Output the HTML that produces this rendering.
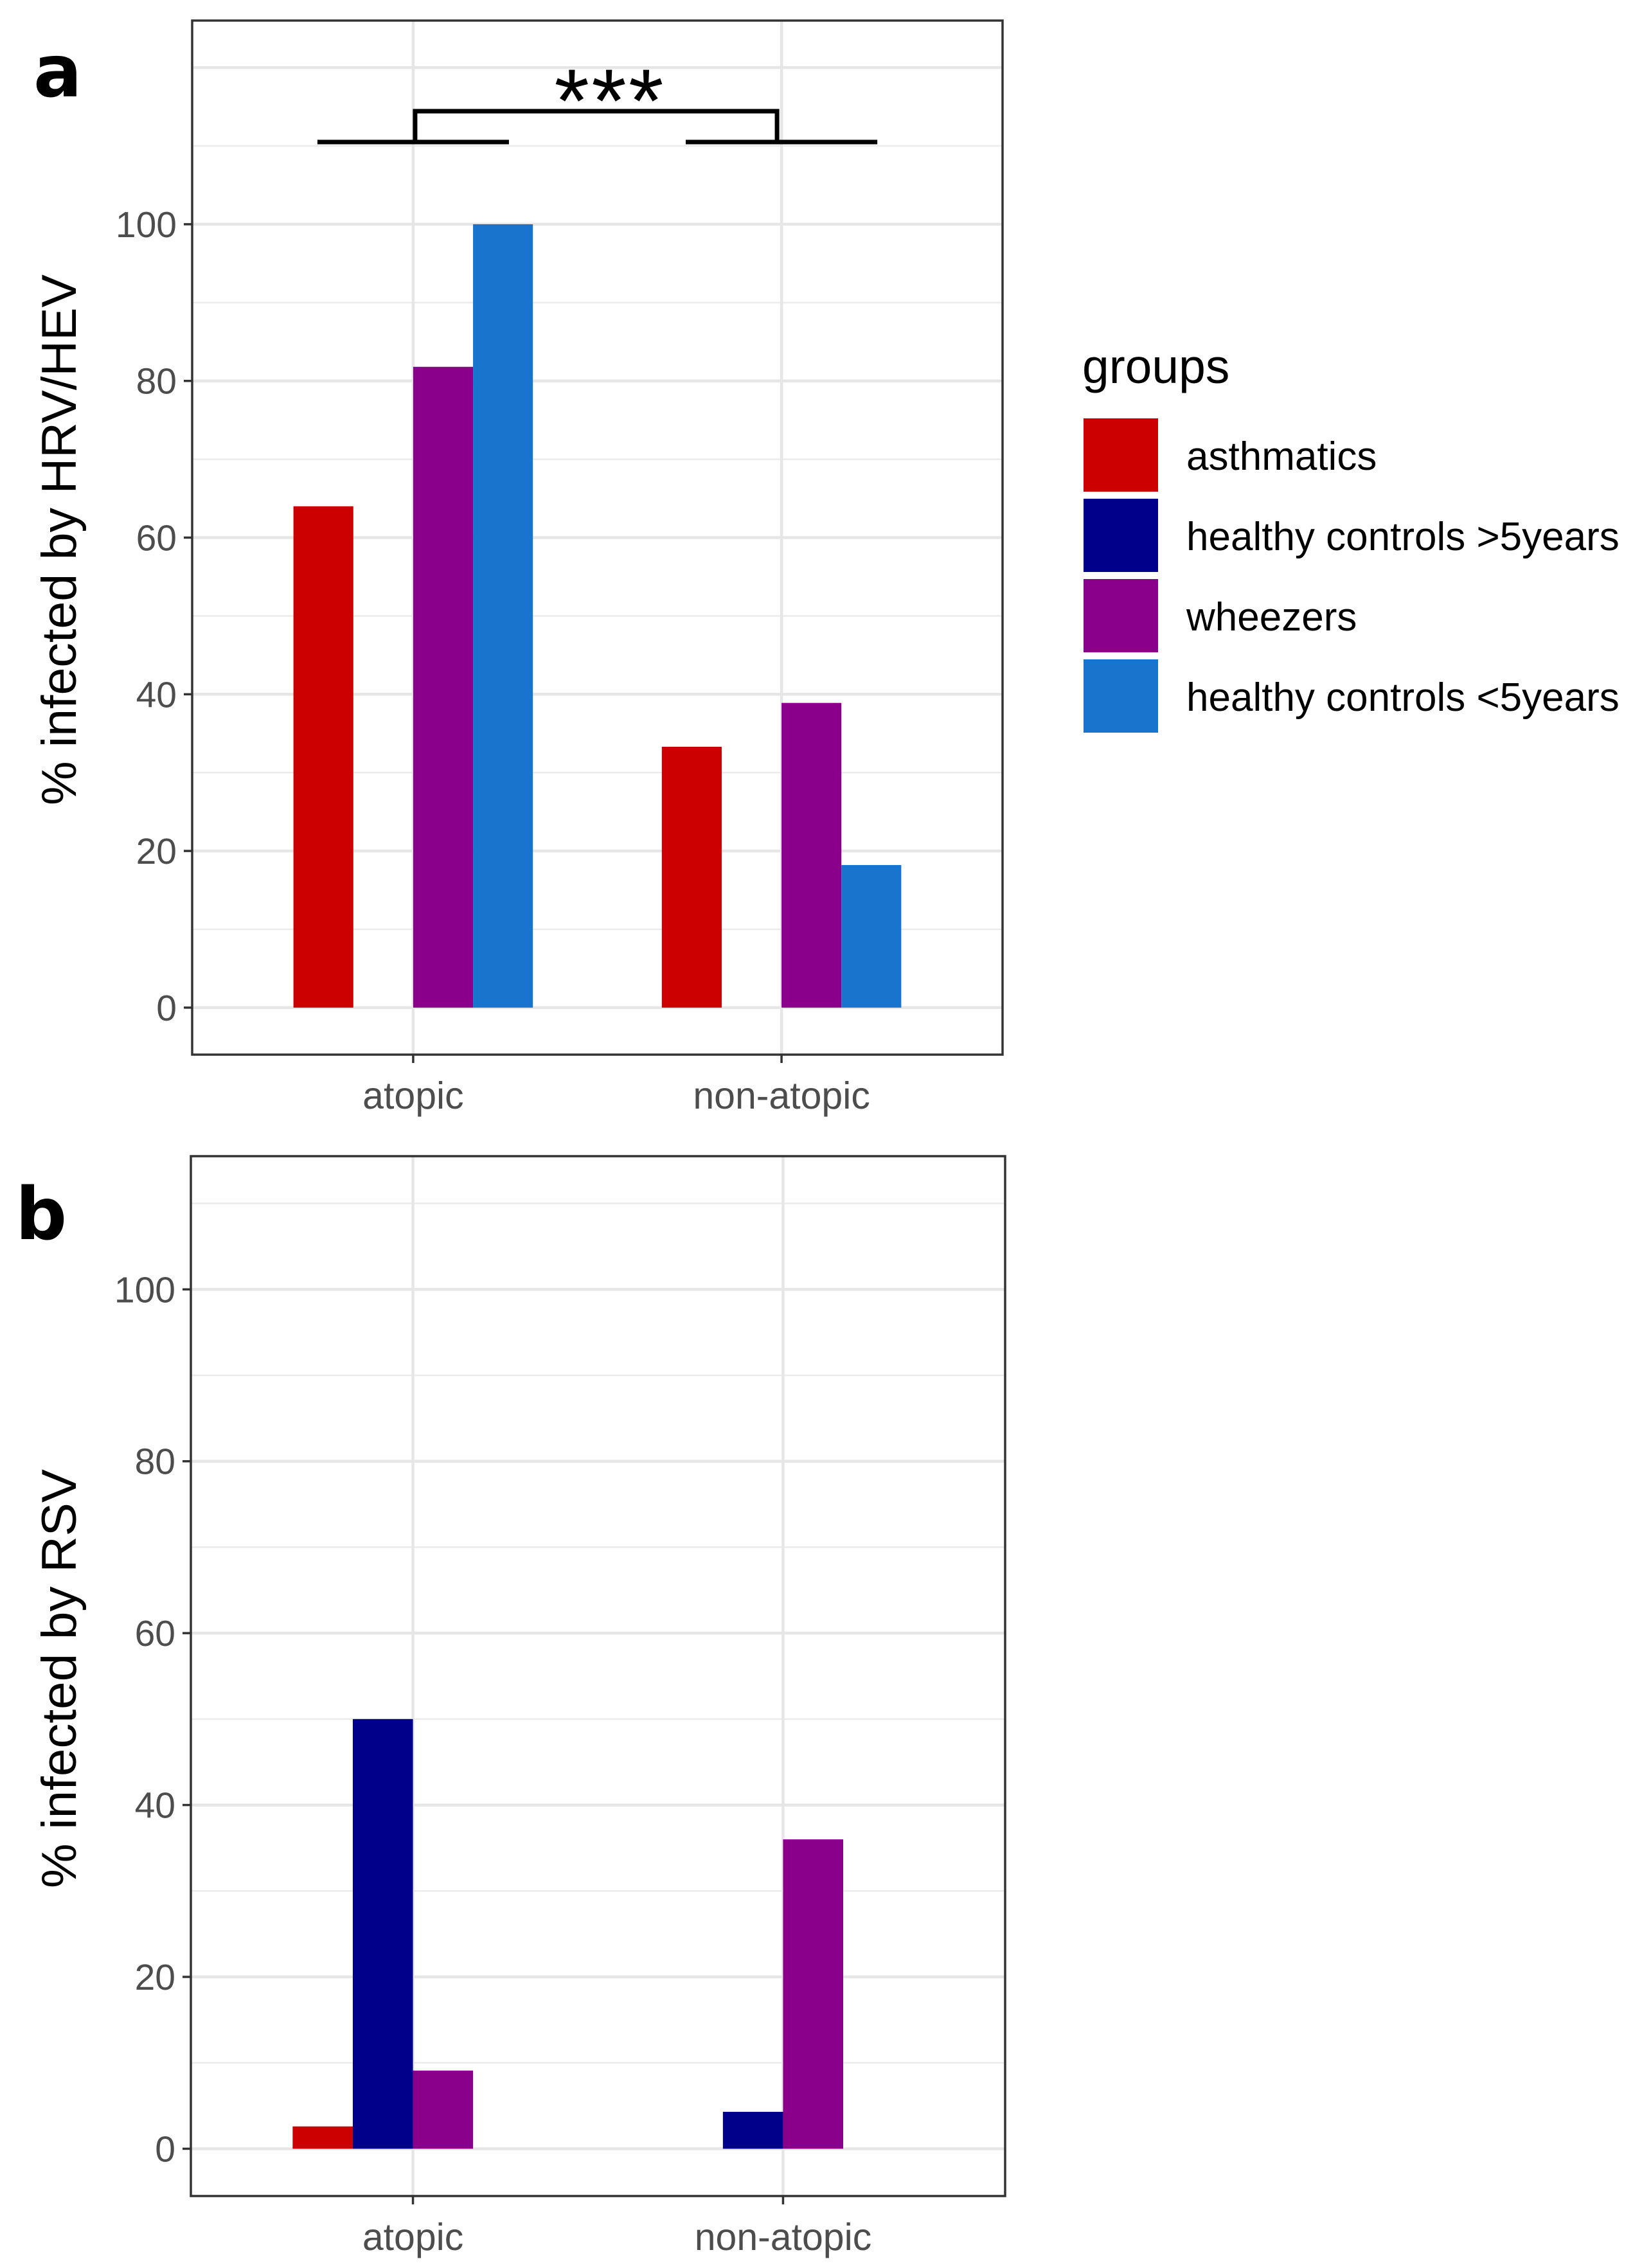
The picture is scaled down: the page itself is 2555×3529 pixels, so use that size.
<!DOCTYPE html>
<html><head><meta charset="utf-8"><style>
html,body{margin:0;padding:0;background:#fff;}
svg{display:block;font-family:"Liberation Sans",Arial,sans-serif;}
</style></head><body>
<svg id="chart" width="2555" height="3529" viewBox="0 0 2555 3529" xmlns="http://www.w3.org/2000/svg">
<rect width="2555" height="3529" fill="#fff"/>
<g id="pa"></g>
<g id="pb"></g>
<g id="legend"></g>
</svg>
<script>
const categories = ["atopic", "non-atopic"];
const groups = ["asthmatics", "healthy controls >5years", "wheezers", "healthy controls <5years"];
const groupColors = ["#cc0000", "#00008b", "#8b008b", "#1874cd"];
const hrvAsthmatics = [64, 33.3];
const hrvHealthyOver5 = [null, null];
const hrvWheezers = [81.8, 38.9];
const hrvHealthyUnder5 = [100, 18.2];
const rsvAsthmatics = [2.6, null];
const rsvHealthyOver5 = [50, 4.3];
const rsvWheezers = [9.1, 36];
const rsvHealthyUnder5 = [null, null];
const yTickLabels = ["0", "20", "40", "60", "80", "100"];

const NS = "http://www.w3.org/2000/svg";
function mk(parent, tag, attrs, text){
  const e = document.createElementNS(NS, tag);
  for (const k in attrs) e.setAttribute(k, attrs[k]);
  if (text !== undefined) e.textContent = text;
  parent.appendChild(e);
  return e;
}

function drawPanel(g, cfg){
  const {L,R,T,B,ymin,ymax,title,series,letter,lx,ly,prefix,gridMax,titleLen} = cfg;
  const yS = v => B - (v - ymin) / (ymax - ymin) * (B - T);
  const xS = i => L + (i + 0.6) / 2.2 * (R - L);
  const unit = (R - L) / 2.2;
  for (let v = 10; v <= gridMax; v += 20) {
    const l = mk(g, "line", {x1:L, x2:R, y1:yS(v), y2:yS(v), stroke:"#ebebeb", "stroke-width":2.5});
    
    
  }
  for (let v = 0; v <= gridMax; v += 20) {
    const l = mk(g, "line", {x1:L, x2:R, y1:yS(v), y2:yS(v), stroke:"#e6e6e6", "stroke-width":4.5});
    
    
  }
  categories.forEach((c, i) => {
    const l = mk(g, "line", {x1:xS(i), x2:xS(i), y1:T, y2:B, stroke:"#e6e6e6", "stroke-width":4.5});
    
    
  });
  const bw = unit * 0.65 / 4;
  series.forEach((vals, s) => {
    vals.forEach((v, i) => {
      if (v === null) return;
      const x = xS(i) - 2 * bw + s * bw;
      const r = mk(g, "rect", {x:x, y:yS(v), width:bw, height:yS(0) - yS(v), fill:groupColors[s]});
      
      
    });
  });
  const bd = mk(g, "rect", {x:L, y:T, width:R-L, height:B-T, fill:"none", stroke:"#333", "stroke-width":3.5});
  
  
  yTickLabels.forEach(t => {
    const v = +t;
    mk(g, "line", {x1:L-13, x2:L, y1:yS(v), y2:yS(v), stroke:"#333", "stroke-width":3.5});
    const tx = mk(g, "text", {x:L-24, y:yS(v)+20, "text-anchor":"end", "font-size":57, fill:"#4d4d4d"}, t);
    
    
  });
  categories.forEach((c, i) => {
    mk(g, "line", {x1:xS(i), x2:xS(i), y1:B, y2:B+13, stroke:"#333", "stroke-width":3.5});
    const tx = mk(g, "text", {x:xS(i), y:B+84, "text-anchor":"middle", "font-size":59, fill:"#4d4d4d"}, c);
    
    
  });
  const yt = mk(g, "text", {x:0, y:0, transform:`translate(118,${cfg.titleY}) rotate(-90)`, "text-anchor":"middle", "font-size":76, fill:"#000", textLength:titleLen, lengthAdjust:"spacingAndGlyphs"}, title);
  
  
  const lt = mk(g, "text", {x:lx, y:ly, "font-size":112, "font-weight":"bold", fill:"#000", "font-family":"DejaVu Sans, sans-serif"}, letter);
  
  
  return {xS, yS, bw};
}

const pa = document.getElementById("pa");
const A = drawPanel(pa, {L:299,R:1560,T:32,B:1641,ymin:-6,ymax:126,gridMax:120,title:"% infected by HRV/HEV",titleLen:826,titleY:840,
  series:[hrvAsthmatics,hrvHealthyOver5,hrvWheezers,hrvHealthyUnder5],letter:"a",lx:52,ly:150,prefix:"hrv"});
(function(){
  const y1 = 221, y2 = 173;
  const c0 = A.xS(0), c1 = A.xS(1), half = A.bw*1.6;
  const sig = mk(pa, "path", {d:`M${c0-half} ${y1}H${c0+half}M${c1-half} ${y1}H${c1+half}M${c0+3} ${y1}V${y2}H${c1-7}V${y1}`, fill:"none", stroke:"#000", "stroke-width":7});
  
  
  const st = mk(pa, "text", {x:(c0+c1)/2+18, y:205, "text-anchor":"middle", "font-size":140, fill:"#000", textLength:170, lengthAdjust:"spacing"}, "***");
  
  
})();

const pb = document.getElementById("pb");
drawPanel(pb, {L:297,R:1564,T:1799,B:3417,ymin:-5.5,ymax:115.5,gridMax:110,title:"% infected by RSV",titleLen:652,titleY:2612,
  series:[rsvAsthmatics,rsvHealthyOver5,rsvWheezers,rsvHealthyUnder5],letter:"b",lx:24,ly:1928,prefix:"rsv"});

const lg = document.getElementById("legend");
const lt = mk(lg, "text", {x:1684, y:596, "font-size":75, fill:"#000"}, "groups");


groups.forEach((name, i) => {
  const y = 651 + i * 125;
  const r = mk(lg, "rect", {x:1686, y:y, width:116, height:114, fill:groupColors[i]});
  
  
  const t = mk(lg, "text", {x:1846, y:y+80, "font-size":62, fill:"#000"}, name);
  
  
});
</script>
</body></html>
